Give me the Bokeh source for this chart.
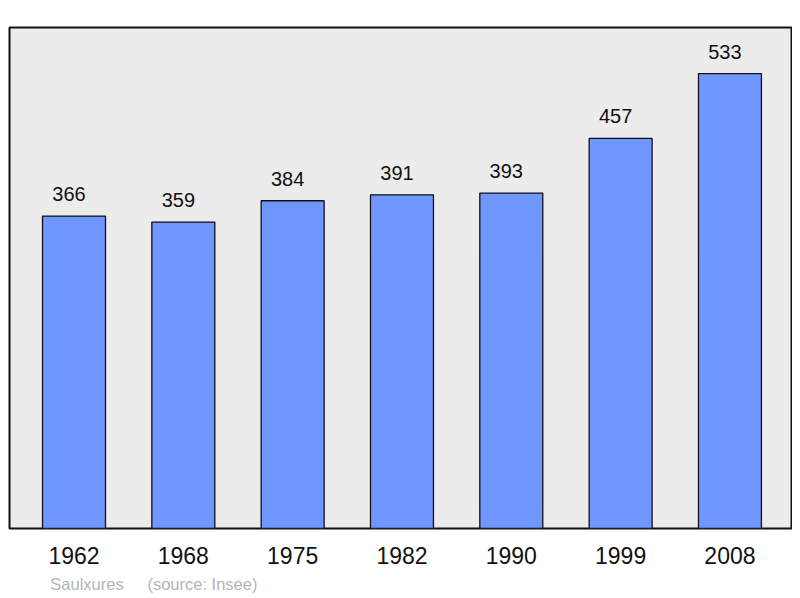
from bokeh.plotting import figure
from bokeh.models import Range1d, FixedTicker, LabelSet, ColumnDataSource, LinearAxis
from bokeh.core.properties import value
from bokeh.embed import file_html
from bokeh.resources import INLINE

years = ["1962", "1968", "1975", "1982", "1990", "1999", "2008"]
population = [366, 359, 384, 391, 393, 457, 533]
caption_name = "Saulxures"
caption_source = "(source: Insee)"

xs = list(range(len(years)))
src = ColumnDataSource(dict(x=xs, top=population, lab=[str(v) for v in population]))

p = figure(width=792, height=596, output_backend="svg", toolbar_location=None,
           x_range=Range1d(-0.59, 6.563), y_range=Range1d(0, 587),
           min_border_left=9, min_border_right=1, min_border_top=27, min_border_bottom=68)
p.background_fill_color = "#ececec"
p.border_fill_color = "white"
p.outline_line_color = "#111111"
p.outline_line_width = 2
p.grid.visible = False
p.yaxis.visible = False

p.vbar(x="x", top="top", bottom=0, width=0.576, source=src,
       fill_color="#7096ff", line_color="#111111", line_width=1.3)

labels = LabelSet(x="x", y="top", text="lab", source=src, x_offset=-5, y_offset=15,
                  text_align="center", text_baseline="alphabetic",
                  text_font=value("Liberation Sans"), text_font_size="20px", text_color="#111111")
p.add_layout(labels)

def style_axis(ax, size, color, standoff):
    ax.axis_line_color = None
    ax.major_tick_line_color = None
    ax.minor_tick_line_color = None
    ax.major_label_text_font = "Liberation Sans"
    ax.major_label_text_font_size = size
    ax.major_label_text_color = color
    ax.major_label_standoff = standoff

ax = p.xaxis[0]
ax.ticker = FixedTicker(ticks=xs)
ax.major_label_overrides = {i: y for i, y in zip(xs, years)}
style_axis(ax, "23px", "#111111", 12)

cap_pos = [0.119, 1.175]
cap_ax = LinearAxis(ticker=FixedTicker(ticks=cap_pos),
                    major_label_overrides={cap_pos[0]: caption_name, cap_pos[1]: caption_source})
style_axis(cap_ax, "16.5px", "#b4b4b4", 2)
p.add_layout(cap_ax, "below")

open("out.html", "w").write(file_html(p, INLINE))
